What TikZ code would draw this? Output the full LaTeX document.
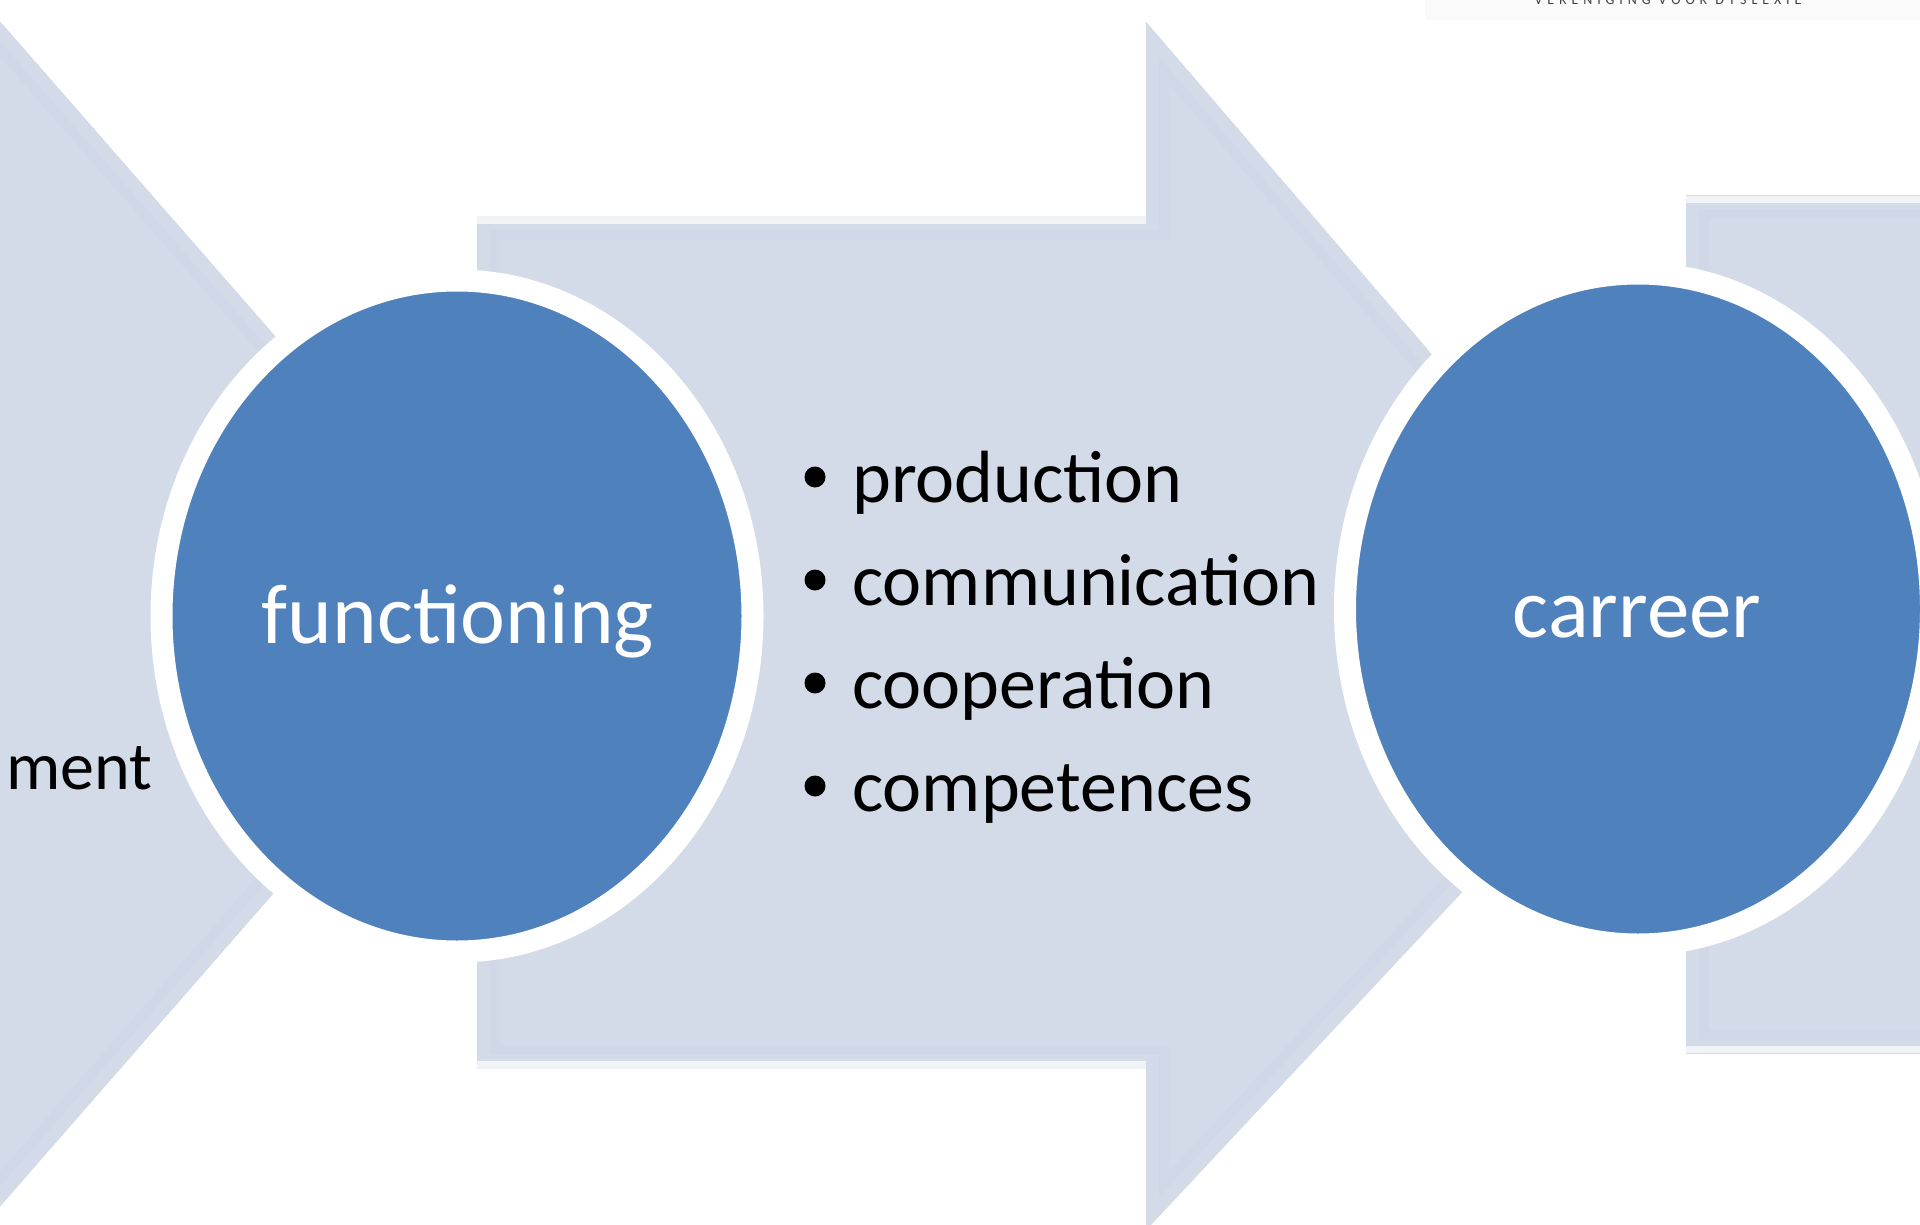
\documentclass[tikz,border=0pt]{standalone}
\usepackage{fontspec}
\setmainfont{Carlito}
\usetikzlibrary{shapes.geometric}
\definecolor{arrowbase}{RGB}{212,219,232}
\definecolor{arrowdark}{RGB}{208,215,230}
\definecolor{arrowlight}{RGB}{241,243,247}
\definecolor{circfill}{RGB}{79,129,189}
\definecolor{logoband}{RGB}{250,250,250}
\tikzset{
  disc/.style={ellipse,fill=circfill,draw=white,line width=22pt,inner sep=0pt,text=white},
  disclabel/.style={text=white,font=\fontsize{85}{85}\selectfont,inner sep=0pt,anchor=base},
  listlabel/.style={text=black,font=\fontsize{74}{74}\selectfont,inner sep=0pt,anchor=base west},
  mentlabel/.style={text=black,font=\fontsize{68}{68}\selectfont,inner sep=0pt,anchor=base west},
  dotmark/.style={circle,fill=black,minimum size=21pt,inner sep=0pt},
  lightband/.style={arrowlight,line width=7pt}
}
\newcommand{\bandshape}[1]{%
  \fill[arrowbase] #1;
  \begin{scope}
    \clip #1;
    \draw[arrowdark,line width=46pt] #1;
    \draw[arrowbase,line width=26pt] #1;
  \end{scope}}
\begin{document}
\begin{tikzpicture}[x=1pt,y=-1pt,line join=miter]
\useasboundingbox (0,0) rectangle (1920,1225);
\fill[white] (0,0) rectangle (1920,1225);
% left arrow head
\bandshape{(-60,-47) -- (350,422) -- (340,817) -- (-60,1275) -- cycle}
% middle arrow
\bandshape{(477,217) -- (1146,217) -- (1146,22) -- (1500,434) -- (1520,830) -- (1146,1230) -- (1146,1068) -- (477,1068) -- cycle}
\draw[lightband] (477,220.5) -- (1146,220.5);
\draw[lightband] (477,1064.5) -- (1146,1064.5);
% right arrow
\bandshape{(1686,196) -- (1990,196) -- (1990,1053) -- (1686,1053) -- cycle}
\draw[lightband] (1686,199.5) -- (1920,199.5);
\draw[lightband] (1686,1049.5) -- (1920,1049.5);
\node[disc,minimum width=591pt,minimum height=671pt] (f) at (457,616) {};
\node[disc,minimum width=586pt,minimum height=671pt] (c) at (1638,609) {};
\node[disclabel] (fl) at (458,643) {functioning};
\node[disclabel] (cl) at (1637,637) {carreer};
\node[mentlabel] (m) at (6,789) {ment};
\node[dotmark] (b1) at (815,477) {};
\node[dotmark] (b2) at (815,580) {};
\node[dotmark] (b3) at (815,683) {};
\node[dotmark] (b4) at (815,786) {};
\node[listlabel] (t1) at (852,502) {production};
\node[listlabel] (t2) at (852,605) {communication};
\node[listlabel] (t3) at (852,708) {cooperation};
\node[listlabel] (t4) at (852,811) {competences};
\fill[logoband] (1425,0) rectangle (1920,20);
\node[font=\fontsize{14}{14}\selectfont\addfontfeature{LetterSpace=35},text=black!75,inner sep=0pt,anchor=base] (v) at (1668,5) {VERENIGING VOOR DYSLEXIE};
\end{tikzpicture}
\end{document}
